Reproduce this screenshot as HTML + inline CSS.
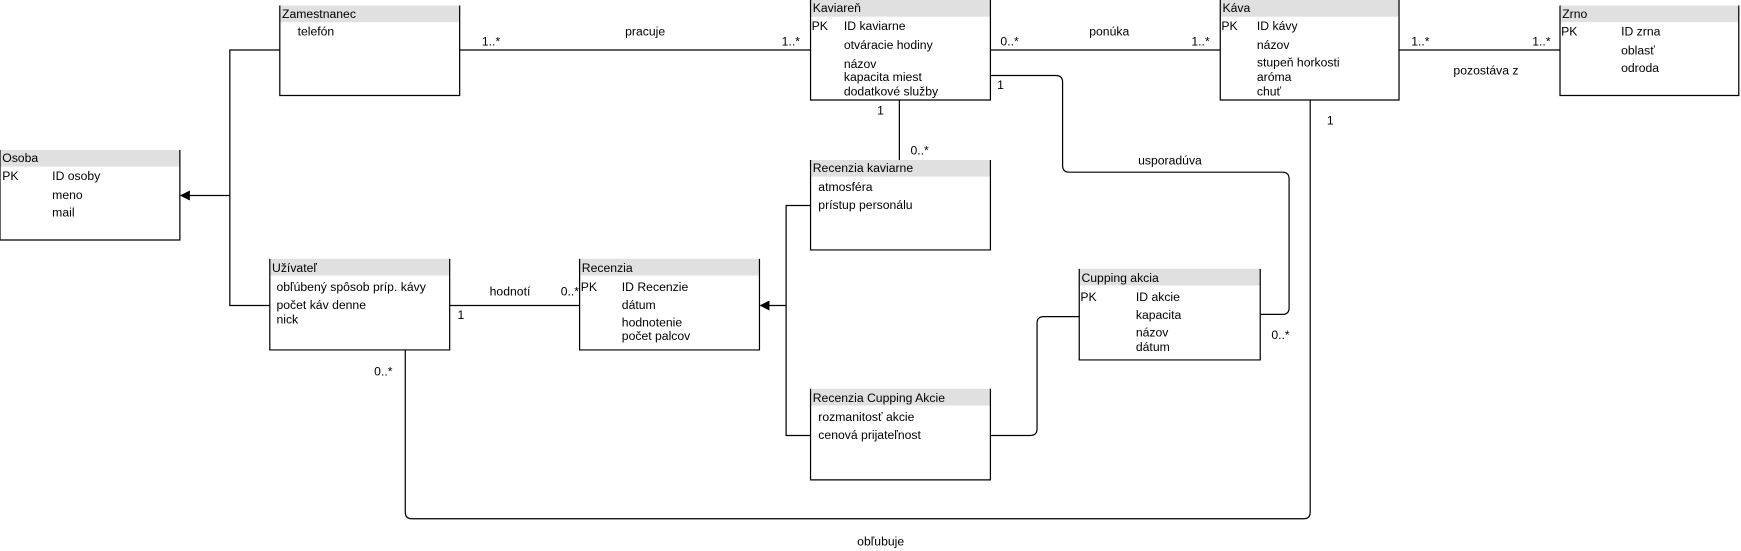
<!DOCTYPE html>
<html><head><meta charset="utf-8"><style>
html,body{margin:0;padding:0;background:#fff;}
svg{display:block;}
text{font-family:"Liberation Sans",Arial,sans-serif;font-size:11px;fill:#000;}
</style></head><body>
<svg width="1741" height="551" viewBox="0 0 1568 496" preserveAspectRatio="none" xmlns="http://www.w3.org/2000/svg">
<g fill="none" stroke="#000" stroke-width="1.1">
<!-- connectors -->
<path d="M414 45H730"/>
<path d="M892 45H1099"/>
<path d="M1260 45H1405"/>
<path d="M810 90V144"/>
<path d="M892 68H951Q957 68 957 74V149Q957 155 963 155H1155Q1161 155 1161 161V277Q1161 283 1155 283H1135"/>
<path d="M252 45H207V275H243"/>
<path d="M207 176H170"/>
<path d="M405 275H522"/>
<path d="M730 185H708V392H730"/>
<path d="M708 275H692"/>
<path d="M972 285H940Q934 285 934 291V386Q934 392 928 392H892"/>
<path d="M365 315V461Q365 467 371 467H1174Q1180 467 1180 461V90"/>
</g>
<polygon points="162,176 171,171.5 171,180.5" fill="#000"/>
<polygon points="684,275 693,270.5 693,279.5" fill="#000"/>

<!-- entity boxes -->
<g stroke="#000" stroke-width="1.1">
<rect x="252" y="5" width="162" height="15" fill="#e0e0e0" stroke="none"/><path d="M252 5V86H414V5" fill="none"/>
<rect x="0" y="135" width="162" height="15" fill="#e0e0e0" stroke="none"/><path d="M0 135V216H162V135" fill="none"/>
<rect x="730" y="0" width="162" height="15" fill="#e0e0e0" stroke="none"/><path d="M730 0V90H892V0" fill="none"/>
<rect x="1099" y="0" width="161" height="15" fill="#e0e0e0" stroke="none"/><path d="M1099 0V90H1260V0" fill="none"/>
<rect x="1405" y="5" width="161" height="15" fill="#e0e0e0" stroke="none"/><path d="M1405 5V86H1566V5" fill="none"/>
<rect x="730" y="144" width="162" height="15" fill="#e0e0e0" stroke="none"/><path d="M730 144V225H892V144" fill="none"/>
<rect x="243" y="233" width="162" height="15" fill="#e0e0e0" stroke="none"/><path d="M243 233V315H405V233" fill="none"/>
<rect x="522" y="233" width="162" height="15" fill="#e0e0e0" stroke="none"/><path d="M522 233V315H684V233" fill="none"/>
<rect x="972" y="242" width="163" height="15" fill="#e0e0e0" stroke="none"/><path d="M972 242V324H1135V242" fill="none"/>
<rect x="730" y="350" width="162" height="15" fill="#e0e0e0" stroke="none"/><path d="M730 350V432H892V350" fill="none"/>
</g>

<!-- Zamestnanec -->
<text x="254" y="16">Zamestnanec</text>
<text x="268" y="32">telefón</text>
<!-- Osoba -->
<text x="2" y="146">Osoba</text>
<text x="2" y="162">PK</text><text x="47" y="162">ID osoby</text>
<text x="47" y="179">meno</text><text x="47" y="195">mail</text>
<!-- Kaviareň -->
<text x="732" y="11">Kaviareň</text>
<text x="731" y="27">PK</text><text x="760" y="27">ID kaviarne</text>
<text x="760" y="44">otváracie hodiny</text>
<text x="760" y="61">názov</text>
<text x="760" y="73">kapacita miest</text>
<text x="760" y="86">dodatkové služby</text>
<!-- Káva -->
<text x="1101" y="11">Káva</text>
<text x="1100" y="27">PK</text><text x="1132" y="27">ID kávy</text>
<text x="1132" y="44">názov</text>
<text x="1132" y="60">stupeň horkosti</text>
<text x="1132" y="73">aróma</text>
<text x="1132" y="86">chuť</text>
<!-- Zrno -->
<text x="1407" y="16">Zrno</text>
<text x="1406" y="32">PK</text><text x="1460" y="32">ID zrna</text>
<text x="1460" y="49">oblasť</text><text x="1460" y="65">odroda</text>
<!-- Recenzia kaviarne -->
<text x="732" y="155">Recenzia kaviarne</text>
<text x="737" y="172">atmosféra</text>
<text x="737" y="188">prístup personálu</text>
<!-- Užívateľ -->
<text x="245" y="245">Užívateľ</text>
<text x="249" y="262">obľúbený spôsob príp. kávy</text>
<text x="249" y="278">počet káv denne</text>
<text x="249" y="291">nick</text>
<!-- Recenzia -->
<text x="524" y="245">Recenzia</text>
<text x="523" y="262">PK</text><text x="560" y="262">ID Recenzie</text>
<text x="560" y="278">dátum</text>
<text x="560" y="294">hodnotenie</text>
<text x="560" y="306">počet palcov</text>
<!-- Cupping akcia -->
<text x="974" y="254">Cupping akcia</text>
<text x="973" y="271">PK</text><text x="1023" y="271">ID akcie</text>
<text x="1023" y="287">kapacita</text>
<text x="1023" y="303">názov</text>
<text x="1023" y="316">dátum</text>
<!-- Recenzia Cupping Akcie -->
<text x="732" y="362">Recenzia Cupping Akcie</text>
<text x="737" y="379">rozmanitosť akcie</text>
<text x="737" y="395">cenová prijateľnost</text>

<!-- connector labels -->
<text x="434" y="41">1..*</text>
<text x="563" y="32">pracuje</text>
<text x="704" y="41">1..*</text>
<text x="901" y="41">0..*</text>
<text x="981" y="32">ponúka</text>
<text x="1073" y="41">1..*</text>
<text x="1271" y="41">1..*</text>
<text x="1380" y="41">1..*</text>
<text x="1309" y="67">pozostáva z</text>
<text x="898" y="80">1</text>
<text x="790" y="103">1</text>
<text x="820" y="139">0..*</text>
<text x="1025" y="148">usporadúva</text>
<text x="1145" y="305">0..*</text>
<text x="1195" y="112">1</text>
<text x="441" y="266">hodnotí</text>
<text x="505" y="266">0..*</text>
<text x="412" y="287">1</text>
<text x="337" y="338">0..*</text>
<text x="772" y="491">obľubuje</text>
</svg>
</body></html>
